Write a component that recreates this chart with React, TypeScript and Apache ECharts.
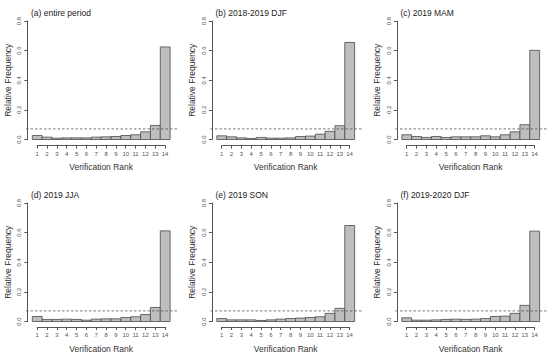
import React, { useEffect, useRef } from "react";
import * as echarts from "echarts";

const ranks = [1, 2, 3, 4, 5, 6, 7, 8, 9, 10, 11, 12, 13, 14];
const yTicks = [0, 0.2, 0.4, 0.6, 0.8];

const panelTitles = [
  "(a) entire period",
  "(b) 2018-2019 DJF",
  "(c) 2019 MAM",
  "(d) 2019 JJA",
  "(e) 2019 SON",
  "(f) 2019-2020 DJF",
];

const entirePeriod = [0.027, 0.016, 0.009, 0.011, 0.011, 0.011, 0.016, 0.018, 0.02, 0.027, 0.032, 0.052, 0.095, 0.625];
const djf2018 = [0.025, 0.018, 0.011, 0.007, 0.014, 0.009, 0.009, 0.011, 0.02, 0.023, 0.036, 0.055, 0.093, 0.655];
const mam2019 = [0.032, 0.02, 0.014, 0.02, 0.014, 0.018, 0.018, 0.018, 0.025, 0.018, 0.032, 0.052, 0.1, 0.602];
const jja2019 = [0.034, 0.014, 0.014, 0.016, 0.014, 0.009, 0.016, 0.018, 0.018, 0.027, 0.032, 0.047, 0.095, 0.612];
const son2019 = [0.02, 0.011, 0.011, 0.011, 0.007, 0.011, 0.016, 0.02, 0.023, 0.027, 0.032, 0.055, 0.089, 0.648];
const djf2019 = [0.025, 0.009, 0.009, 0.011, 0.014, 0.016, 0.014, 0.016, 0.02, 0.034, 0.036, 0.055, 0.109, 0.61];

const panelSeries = [entirePeriod, djf2018, mam2019, jja2019, son2019, djf2019];
const uniformFrequency = 1 / ranks.length;

const FONT = "'Liberation Sans', Arial, sans-serif";

export default function App() {
  const ref = useRef<HTMLDivElement>(null);

  useEffect(() => {
    if (!ref.current) return;
    const chart = echarts.init(ref.current, undefined, { renderer: "svg" });

    const colX = [0, 184.5, 369.5];
    const rowY = [0, 182];
    const xMin = -0.14;
    const xMax = 15.2;

    const grids: any[] = [];
    const xAxes: any[] = [];
    const yAxes: any[] = [];
    const series: any[] = [];
    const titles: any[] = [];

    panelSeries.forEach((vals, i) => {
      const ox = colX[i % 3];
      const oy = rowY[Math.floor(i / 3)];
      const gMain = grids.length;
      grids.push({ left: ox + 26, top: oy + 21, width: 151, height: 118.5 });
      xAxes.push({
        gridIndex: gMain,
        type: "value",
        min: xMin,
        max: xMax,
        show: false,
      });
      yAxes.push({
        gridIndex: gMain,
        type: "value",
        min: yTicks[0],
        max: yTicks[yTicks.length - 1],
        interval: 0.2,
        splitLine: { show: false },
        axisLine: { show: true, lineStyle: { color: "#555", width: 1 } },
        axisTick: { show: true, length: 3, lineStyle: { color: "#555" } },
        axisLabel: {
          rotate: 90,
          fontSize: 6,
          color: "#555",
          margin: 4,
          fontFamily: FONT,
          formatter: (v: number) => v.toFixed(1),
        },
        name: "Relative Frequency",
        nameLocation: "middle",
        nameRotate: 90,
        nameGap: 14,
        nameTextStyle: { fontSize: 8.5, color: "#333", fontFamily: FONT },
      });
      const gAx = grids.length;
      grids.push({ left: ox + 37.2, top: oy + 144.7, width: 127.9, height: 1 });
      xAxes.push({
        gridIndex: gAx,
        type: "value",
        min: ranks[0],
        max: ranks[ranks.length - 1],
        interval: 1,
        splitLine: { show: false },
        axisLine: { show: true, lineStyle: { color: "#555", width: 1 } },
        axisTick: { show: true, length: 3, lineStyle: { color: "#555" } },
        axisLabel: { fontSize: 6, color: "#555", margin: 5, fontFamily: FONT },
        name: "Verification Rank",
        nameLocation: "middle",
        nameGap: 17,
        nameTextStyle: { fontSize: 8.5, color: "#333", fontFamily: FONT },
      });
      yAxes.push({ gridIndex: gAx, type: "value", show: false });

      series.push({
        type: "custom",
        xAxisIndex: gMain,
        yAxisIndex: gMain,
        clip: false,
        data: ranks.map((r, k) => [r, vals[k]]),
        renderItem: (params: any, api: any) => {
          const r = api.value(0);
          const v = api.value(1);
          const p0 = api.coord([r - 0.5, v]);
          const p1 = api.coord([r + 0.5, 0]);
          return {
            type: "rect",
            shape: { x: p0[0], y: p0[1], width: p1[0] - p0[0], height: p1[1] - p0[1] },
            style: { fill: "#bebebe", stroke: "#4a4a4a", lineWidth: 0.8 },
          };
        },
      });
      series.push({
        type: "line",
        xAxisIndex: gMain,
        yAxisIndex: gMain,
        symbol: "none",
        data: [
          [xMin, uniformFrequency],
          [xMax, uniformFrequency],
        ],
        lineStyle: { color: "#555", width: 0.8, type: [2.5, 2] },
        z: 5,
      });
      titles.push({
        text: panelTitles[i],
        left: ox + 26,
        top: oy + 3,
        textStyle: { fontSize: 8.5, fontWeight: "normal", color: "#222", fontFamily: FONT },
      });
    });

    chart.setOption({
      animation: false,
      backgroundColor: "#fff",
      title: titles,
      grid: grids,
      xAxis: xAxes,
      yAxis: yAxes,
      series,
    });

    return () => chart.dispose();
  }, []);

  return (
    <div
      ref={ref}
      style={{ position: "fixed", left: 0, top: 0, width: 550, height: 354 }}
    />
  );
}
